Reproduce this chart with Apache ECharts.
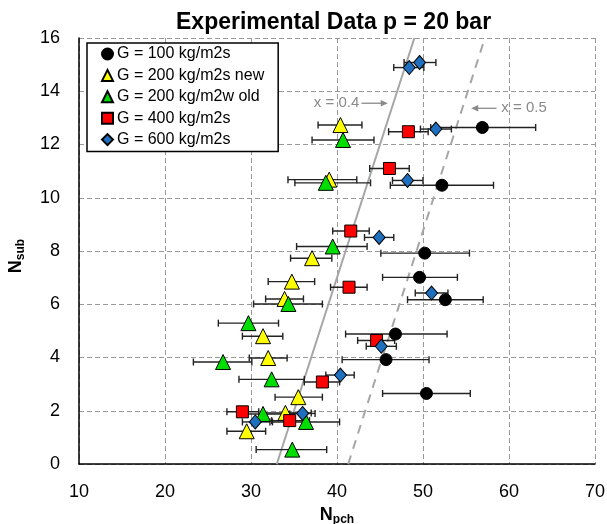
<!DOCTYPE html>
<html>
<head>
<meta charset="utf-8">
<script src="https://cdn.jsdelivr.net/npm/echarts@6/dist/echarts.min.js"></script>
<style>
html,body{margin:0;padding:0;background:#fff;}
#chart{width:607px;height:524px;}
</style>
</head>
<body>
<div id="chart"></div>
<script>
// Axis ranges
const xTicks = [10, 20, 30, 40, 50, 60, 70];
const yTicks = [0, 2, 4, 6, 8, 10, 12, 14, 16];

// G = 100 kg/m2s
const g100_x  = [56.9, 52.2, 50.2, 49.6, 52.6, 46.8, 45.7, 50.4];
const g100_y  = [12.64, 10.47, 7.92, 7.01, 6.17, 4.88, 3.92, 2.65];
const g100_lo = [50.9, 46.2, 45.1, 45.3, 48.2, 41.0, 40.6, 45.3];
const g100_hi = [63.1, 58.2, 55.4, 54.0, 57.0, 52.8, 50.7, 55.5];

// G = 200 kg/m2s new
const g200n_x  = [40.4, 39.1, 37.1, 34.75, 33.9, 31.4, 32.0, 35.5, 34.0, 29.5];
const g200n_y  = [12.73, 10.68, 7.73, 6.85, 6.2, 4.8, 3.98, 2.51, 1.92, 1.23];
const g200n_lo = [37.8, 34.3, 34.6, 32.0, 31.7, 29.0, 29.8, 32.8, 31.5, 27.2];
const g200n_hi = [42.9, 42.3, 39.4, 37.4, 36.1, 33.7, 34.2, 38.3, 37.0, 31.7];

// G = 200 kg/m2w old
const g200o_x  = [40.7, 38.7, 39.5, 34.35, 29.7, 26.75, 32.4, 31.4, 36.4, 34.8];
const g200o_y  = [12.17, 10.56, 8.17, 6.01, 5.29, 3.83, 3.18, 1.88, 1.58, 0.54];
const g200o_lo = [37.1, 35.1, 35.3, 30.3, 26.2, 23.3, 28.6, 28.5, 32.5, 30.6];
const g200o_hi = [44.3, 43.9, 43.5, 38.3, 33.2, 30.1, 36.2, 34.5, 40.3, 38.8];

// G = 400 kg/m2s
const g400_x  = [48.3, 46.1, 41.6, 41.4, 44.6, 38.3, 29.0, 34.5];
const g400_y  = [12.48, 11.1, 8.75, 6.64, 4.64, 3.08, 1.96, 1.63];
const g400_lo = [46.0, 43.8, 39.5, 39.25, 42.4, 36.2, 27.2, 32.4];
const g400_hi = [50.6, 48.4, 43.75, 43.5, 46.7, 40.3, 30.9, 36.8];

// G = 600 kg/m2s
const g600_x  = [49.6, 48.4, 51.5, 48.2, 44.9, 51.0, 45.15, 40.4, 36.0, 30.5];
const g600_y  = [15.08, 14.89, 12.58, 10.65, 8.51, 6.42, 4.42, 3.34, 1.9, 1.58];
const g600_lo = [47.8, 46.6, 49.7, 46.45, 43.2, 49.1, 43.4, 38.7, 34.1, 29.0];
const g600_hi = [51.5, 50.1, 53.3, 50.0, 46.6, 52.9, 46.9, 42.0, 37.45, 32.2];

// Constant-quality lines (x = 0.4 solid, x = 0.5 dashed)
const q04_x = [33.0, 49.0];
const q04_y = [0, 16];
const q05_x = [41.3, 57.2];
const q05_y = [0, 16];

const FONT = 'Liberation Sans, Arial, sans-serif';

function zip(a, b) { return a.map((v, i) => [v, b[i]]); }
function errData(x, y, lo, hi) { return x.map((v, i) => [v, y[i], lo[i], hi[i]]); }

// Horizontal error bar with end caps
function errRender(params, api) {
  const y = api.value(1), lo = api.value(2), hi = api.value(3);
  const a = api.coord([lo, y]), b = api.coord([hi, y]);
  const h = 3.5;
  const st = { stroke: '#222', lineWidth: 1.4 };
  return {
    type: 'group',
    children: [
      { type: 'line', shape: { x1: a[0], y1: a[1], x2: b[0], y2: b[1] }, style: st },
      { type: 'line', shape: { x1: a[0], y1: a[1] - h, x2: a[0], y2: a[1] + h }, style: st },
      { type: 'line', shape: { x1: b[0], y1: b[1] - h, x2: b[0], y2: b[1] + h }, style: st }
    ]
  };
}

function errSeries(x, y, lo, hi) {
  return {
    type: 'custom', name: '_err', renderItem: errRender, z: 2,
    encode: { x: 0, y: 1 }, data: errData(x, y, lo, hi), silent: true
  };
}

function scatter(name, x, y, symbol, size, color) {
  return {
    type: 'scatter', name: name, symbol: symbol, symbolSize: size, z: 5,
    itemStyle: { color: color, borderColor: '#000', borderWidth: 1, opacity: 1 },
    data: zip(x, y)
  };
}

const groups = [
  { name: 'G = 100 kg/m2s',      x: g100_x,  y: g100_y,  lo: g100_lo,  hi: g100_hi,  sym: 'circle',   size: 12, color: '#000000' },
  { name: 'G = 200 kg/m2s new',  x: g200n_x, y: g200n_y, lo: g200n_lo, hi: g200n_hi, sym: 'triangle', size: 15, color: '#ffff00' },
  { name: 'G = 200 kg/m2w old',  x: g200o_x, y: g200o_y, lo: g200o_lo, hi: g200o_hi, sym: 'triangle', size: 15, color: '#00dd00' },
  { name: 'G = 400 kg/m2s',      x: g400_x,  y: g400_y,  lo: g400_lo,  hi: g400_hi,  sym: 'rect',     size: 12, color: '#ff0000' },
  { name: 'G = 600 kg/m2s',      x: g600_x,  y: g600_y,  lo: g600_lo,  hi: g600_hi,  sym: 'diamond',  size: [12, 14], color: '#1f6fbf' }
];

const series = [];
series.push({
  type: 'line', name: 'x = 0.4', data: zip(q04_x, q04_y), symbol: 'none', z: 1,
  lineStyle: { color: '#a6a6a6', width: 2 }, silent: true
});
series.push({
  type: 'line', name: 'x = 0.5', data: zip(q05_x, q05_y), symbol: 'none', z: 1,
  lineStyle: { color: '#a6a6a6', width: 2, type: [9, 7] }, silent: true
});
groups.forEach(g => series.push(errSeries(g.x, g.y, g.lo, g.hi)));
groups.forEach(g => series.push(scatter(g.name, g.x, g.y, g.sym, g.size, g.color)));

const chart = echarts.init(document.getElementById('chart'), null, { renderer: 'canvas' });

const option = {
  animation: false,
  backgroundColor: '#fff',
  textStyle: { fontFamily: FONT },
  title: {
    text: 'Experimental Data p = 20 bar',
    left: 171, top: 6,
    textStyle: { fontFamily: FONT, fontSize: 23, fontWeight: 'bold', color: '#000' }
  },
  grid: { left: 79, right: 12, top: 38, bottom: 60, containLabel: false, outerBoundsMode: 'none' },
  legend: {
    orient: 'vertical', left: 87, top: 43,
    data: groups.map(g => g.name),
    backgroundColor: '#fff', borderColor: '#000', borderWidth: 1.5,
    padding: [3, 14, 4, 14],
    itemWidth: 11, itemHeight: 11, itemGap: 5.4,
    textStyle: { fontFamily: FONT, fontSize: 16, color: '#000', padding: [0, 0, 0, -1] }
  },
  xAxis: {
    type: 'value', min: 10, max: 70, interval: 10,
    name: '{n|N}{s|pch}', nameLocation: 'middle', nameGap: 31,
    nameTextStyle: {
      rich: {
        n: { fontFamily: FONT, fontSize: 18, fontWeight: 'bold', color: '#000' },
        s: { fontFamily: FONT, fontSize: 12, fontWeight: 'bold', color: '#000', padding: [10, 0, 0, 0] }
      }
    },
    axisLine: { lineStyle: { color: '#000', width: 1.5 } },
    axisTick: { show: false },
    axisLabel: { fontFamily: FONT, fontSize: 18, color: '#000', margin: 19 },
    splitLine: { show: true, lineStyle: { color: '#999', type: [5, 3], width: 1 } }
  },
  yAxis: {
    type: 'value', min: 0, max: 16, interval: 2,
    name: '{n|N}{s|sub}', nameLocation: 'middle', nameGap: 52, nameRotate: 90,
    nameTextStyle: {
      padding: [0, 10, 0, 0],
      rich: {
        n: { fontFamily: FONT, fontSize: 18, fontWeight: 'bold', color: '#000' },
        s: { fontFamily: FONT, fontSize: 12, fontWeight: 'bold', color: '#000', padding: [10, 0, 0, 0] }
      }
    },
    axisLine: { show: true, lineStyle: { color: '#000', width: 1.5 } },
    axisTick: { show: false },
    axisLabel: { fontFamily: FONT, fontSize: 18, color: '#000', margin: 19 },
    splitLine: { show: true, lineStyle: { color: '#999', type: [5, 3], width: 1 } }
  },
  series: series
};

chart.setOption(option);

// Labels for the constant-quality lines, placed in data coordinates
function px(p) { return chart.convertToPixel({ gridIndex: 0 }, p); }
const lbl04 = px([39.95, 13.55]);
const arr04a = px([42.85, 13.55]), arr04b = px([45.9, 13.55]);
const lbl05 = px([61.75, 13.36]);
const arr05a = px([58.55, 13.36]), arr05b = px([55.6, 13.36]);
const GRAY = '#8a8a8a';

function arrow(from, to) {
  const dir = Math.sign(to[0] - from[0]);
  const hl = 7, hw = 3.2;
  return [
    { type: 'line', shape: { x1: from[0], y1: from[1], x2: to[0] - dir * hl * 0.6, y2: to[1] },
      style: { stroke: GRAY, lineWidth: 1.3 }, z: 10 },
    { type: 'polygon', shape: { points: [[to[0], to[1]], [to[0] - dir * hl, to[1] - hw], [to[0] - dir * hl, to[1] + hw]] },
      style: { fill: GRAY }, z: 10 }
  ];
}

chart.setOption({
  graphic: [
    { type: 'text', x: lbl04[0], y: lbl04[1], z: 10,
      style: { text: 'x = 0.4', fill: GRAY, font: '15px ' + FONT, align: 'center', verticalAlign: 'middle' } },
    { type: 'text', x: lbl05[0], y: lbl05[1], z: 10,
      style: { text: 'x = 0.5', fill: GRAY, font: '15px ' + FONT, align: 'center', verticalAlign: 'middle' } }
  ].concat(arrow(arr04a, arr04b)).concat(arrow(arr05a, arr05b))
});
</script>
</body>
</html>
